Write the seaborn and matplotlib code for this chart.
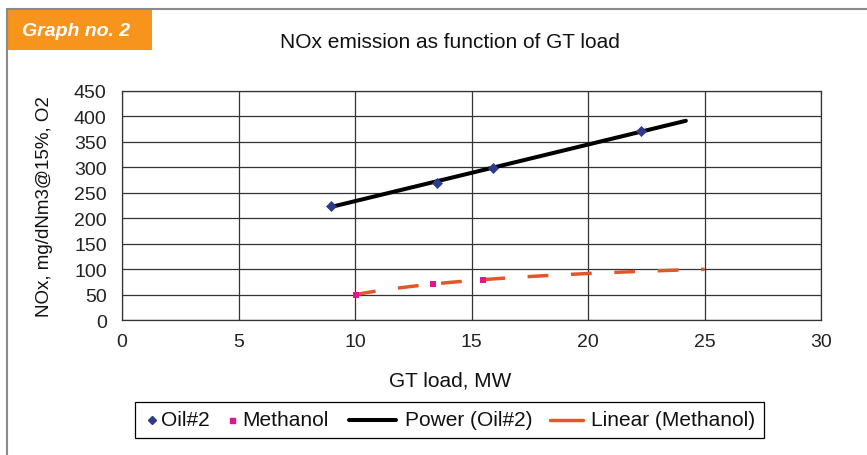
import numpy as np
import pandas as pd
import matplotlib
matplotlib.use("Agg")
import matplotlib.pyplot as plt
from matplotlib.lines import Line2D
from matplotlib.patches import Rectangle
import seaborn as sns

# ---- data ----
oil_x = [8.97, 13.52, 15.91, 22.26]
oil_y = [224, 270, 299, 371]
meth_x = [10.04, 13.33, 15.51]
meth_y = [50, 71, 79]
power_range = [8.97, 24.2]      # extent of the "Power (Oil#2)" trendline
meth_trend_range = [10.0, 25.0]  # extent of the methanol trendline

x_ticks = [0, 5, 10, 15, 20, 25, 30]
y_ticks = [0, 50, 100, 150, 200, 250, 300, 350, 400, 450]
legend_labels = ["Oil#2", "Methanol", "Power (Oil#2)", "Linear (Methanol)"]

sns.set_style("white")
plt.rcParams['font.family'] = ['Liberation Sans', 'DejaVu Sans']

W, H = 867, 456
fig = plt.figure(figsize=(W / 100, H / 100), dpi=100)


def fx(x):
    return x / W


def fy(y):
    return 1 - y / H


AX_L, AX_R, AX_T, AX_B = 122, 821, 92, 321
ax = fig.add_axes([fx(AX_L), fy(AX_B), (AX_R - AX_L) / W, (AX_B - AX_T) / H])

# trendlines fitted from the data
p1, p0 = np.polyfit(oil_x, oil_y, 1)
px = np.linspace(power_range[0], power_range[1], 60)
power_df = pd.DataFrame({"x": px, "y": p0 + p1 * px})

c1, c0 = np.polyfit(1.0 / np.array(meth_x), meth_y, 1)
mx = np.linspace(meth_trend_range[0], meth_trend_range[1], 80)
meth_df = pd.DataFrame({"x": mx, "y": c0 + c1 / mx})

BLACK_LW = 2.9
ORANGE = "#e2572a"
NAVY = "#2e3a8c"
MAGENTA = "#e0168c"

sns.lineplot(data=power_df, x="x", y="y", ax=ax, color="black", lw=BLACK_LW,
             solid_capstyle="round", zorder=3)
sns.lineplot(data=meth_df, x="x", y="y", ax=ax, color=ORANGE, lw=2.5,
             linestyle=(0, (6, 6.5)), zorder=3)
sns.scatterplot(x=oil_x, y=oil_y, ax=ax, marker="D", s=26, color=NAVY,
                edgecolor=NAVY, linewidth=0.5, zorder=4)
sns.scatterplot(x=meth_x, y=meth_y, ax=ax, marker="s", s=24, color=MAGENTA,
                edgecolor=MAGENTA, linewidth=0, zorder=4)

ax.set_xlim(0, 30)
ax.set_ylim(0, 450)
ax.set_xticks(x_ticks)
ax.set_yticks(y_ticks)
ax.grid(True, color="#333333", linewidth=0.9)
for s in ax.spines.values():
    s.set_color("#333333")
    s.set_linewidth(0.9)
ax.tick_params(axis="both", which="both", direction="out", length=5.5,
               width=0.9, color="#333333", labelsize=14, labelcolor="#222222")
ax.tick_params(axis="x", pad=3.6)
ax.tick_params(axis="y", pad=5.5)
ax.set_xlabel("GT load, MW", fontsize=15, color="#111111")
ax.xaxis.set_label_coords((450 - AX_L) / (AX_R - AX_L),
                          (AX_B - 381) / (AX_B - AX_T))
ax.xaxis.label.set_va("center")
ax.set_ylabel("NOx, mg/dNm3@15%, O2", fontsize=13.5, color="#111111",
              labelpad=15)
ax.set_title("")
fig.text(fx(450), fy(43), "NOx emission as function of GT load", fontsize=15,
         color="#111111", ha="center", va="center")

# legend (compact marker entries like the reference)
fig.add_artist(Rectangle((fx(134.5), fy(439)), (764 - 134.5) / W, 36 / H,
                         transform=fig.transFigure, facecolor="white",
                         edgecolor="black", lw=0.9))
ly = 421
fig.add_artist(Line2D([fx(152)], [fy(ly)], transform=fig.transFigure,
                      marker="D", markersize=3.6, color=NAVY, linestyle="none"))
fig.add_artist(Line2D([fx(232)], [fy(ly)], transform=fig.transFigure,
                      marker="s", markersize=3.6, color=MAGENTA, linestyle="none"))
fig.add_artist(Line2D([fx(349), fx(396)], [fy(ly), fy(ly)],
                      transform=fig.transFigure, color="black", lw=BLACK_LW))
fig.add_artist(Line2D([fx(550), fx(583)], [fy(ly), fy(ly)],
                      transform=fig.transFigure, color=ORANGE, lw=2.5))
for xpos, lab in zip([161, 242, 405, 591], legend_labels):
    fig.text(fx(xpos), fy(ly), lab, fontsize=15, color="#111111",
             ha="left", va="center")

# outer frame and badge
fig.add_artist(Line2D([fx(7), fx(7)], [0, fy(10)], transform=fig.transFigure,
                      color="#8a8a8a", lw=1.5))
fig.add_artist(Line2D([fx(7), 1], [fy(10), fy(10)], transform=fig.transFigure,
                      color="#8a8a8a", lw=1.5))
fig.add_artist(Rectangle((fx(7), fy(51)), (152 - 7) / W, 41 / H,
                         transform=fig.transFigure, facecolor="#f7941d",
                         edgecolor="none"))
fig.text(fx(22), fy(32), "Graph no. 2", color="white", fontsize=14,
         fontweight="bold", fontstyle="italic", va="center", ha="left")

fig.savefig("out.png", dpi=100)
